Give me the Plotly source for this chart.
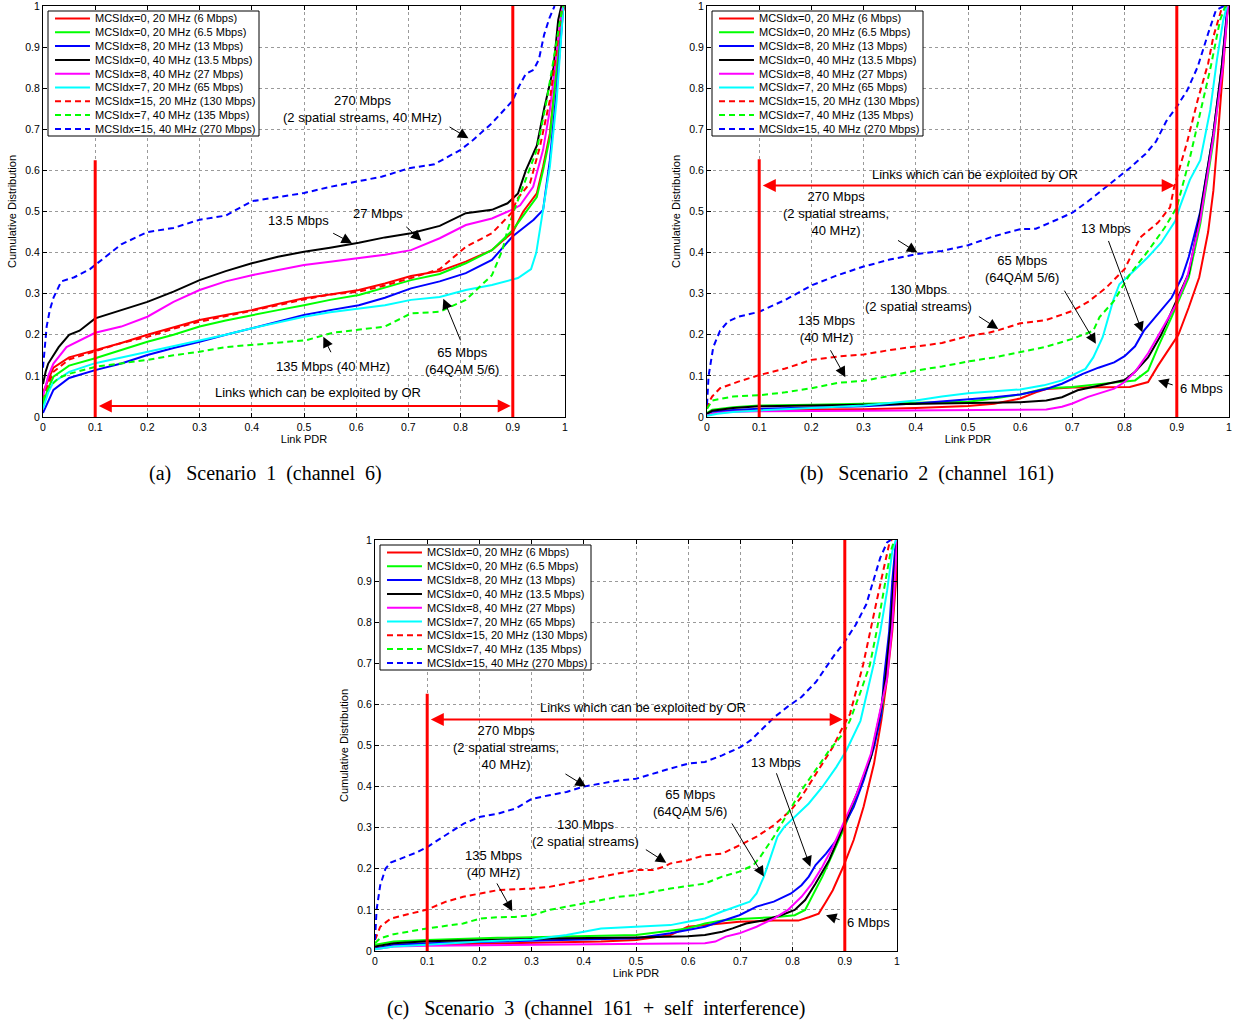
import plotly.graph_objects as go

# ---------------- data ----------------
SERIES_NAMES = [
    "MCSIdx=0, 20 MHz (6 Mbps)",
    "MCSIdx=0, 20 MHz (6.5 Mbps)",
    "MCSIdx=8, 20 MHz (13 Mbps)",
    "MCSIdx=0, 40 MHz (13.5 Mbps)",
    "MCSIdx=8, 40 MHz (27 Mbps)",
    "MCSIdx=7, 20 MHz (65 Mbps)",
    "MCSIdx=15, 20 MHz (130 Mbps)",
    "MCSIdx=7, 40 MHz (135 Mbps)",
    "MCSIdx=15, 40 MHz (270 Mbps)",
]
TICKS = [0, 0.1, 0.2, 0.3, 0.4, 0.5, 0.6, 0.7, 0.8, 0.9, 1]
TICK_LABELS = ["0", "0.1", "0.2", "0.3", "0.4", "0.5", "0.6", "0.7", "0.8", "0.9", "1"]
OR_LOW, OR_HIGH = 0.1, 0.9
CAPTIONS = [
    "(a)\u00a0\u00a0\u00a0Scenario\u00a0\u00a01\u00a0\u00a0(channel\u00a0\u00a06)",
    "(b)\u00a0\u00a0\u00a0Scenario\u00a0\u00a02\u00a0\u00a0(channel\u00a0\u00a0161)",
    "(c)\u00a0\u00a0\u00a0Scenario\u00a0\u00a03\u00a0\u00a0(channel\u00a0\u00a0161\u00a0\u00a0+\u00a0\u00a0self\u00a0\u00a0interference)",
]

# Scenario 1 (channel 6): [link PDR, cumulative distribution]
S1_6 = [[0,0.06],[0.01,0.09],[0.02,0.12],[0.05,0.145],[0.1,0.163],[0.15,0.18],[0.2,0.2],[0.25,0.218],[0.3,0.236],[0.35,0.248],[0.4,0.26],[0.45,0.275],[0.5,0.289],[0.55,0.298],[0.605,0.309],[0.655,0.325],[0.705,0.343],[0.76,0.355],[0.81,0.378],[0.86,0.406],[0.9,0.45],[0.92,0.5],[0.946,0.544],[0.958,0.609],[0.971,0.69],[0.984,0.852],[0.994,0.98],[1.0,1.0]]
S1_6_5 = [[0,0.03],[0.01,0.07],[0.02,0.098],[0.05,0.125],[0.1,0.143],[0.15,0.163],[0.2,0.183],[0.25,0.2],[0.3,0.22],[0.35,0.235],[0.4,0.248],[0.45,0.26],[0.5,0.272],[0.55,0.285],[0.605,0.297],[0.655,0.315],[0.705,0.333],[0.76,0.348],[0.81,0.374],[0.86,0.406],[0.9,0.455],[0.92,0.49],[0.946,0.535],[0.958,0.6],[0.971,0.68],[0.984,0.85],[0.995,1.0]]
S1_13 = [[0,0.01],[0.01,0.04],[0.02,0.066],[0.05,0.095],[0.1,0.114],[0.15,0.13],[0.2,0.151],[0.25,0.168],[0.3,0.183],[0.35,0.2],[0.4,0.216],[0.45,0.232],[0.5,0.248],[0.55,0.26],[0.605,0.272],[0.655,0.29],[0.705,0.313],[0.76,0.33],[0.81,0.35],[0.86,0.382],[0.9,0.44],[0.92,0.46],[0.94,0.48],[0.958,0.504],[0.971,0.625],[0.984,0.796],[0.994,0.966],[0.997,1.0]]
S1_13_5 = [[0,0.08],[0.005,0.11],[0.01,0.13],[0.03,0.17],[0.05,0.2],[0.07,0.21],[0.1,0.24],[0.15,0.26],[0.2,0.28],[0.25,0.305],[0.3,0.333],[0.35,0.355],[0.4,0.374],[0.45,0.39],[0.5,0.402],[0.55,0.412],[0.605,0.424],[0.655,0.437],[0.705,0.447],[0.76,0.465],[0.81,0.496],[0.86,0.504],[0.89,0.52],[0.91,0.544],[0.925,0.6],[0.946,0.66],[0.96,0.75],[0.978,0.85],[0.987,0.966],[0.993,1.0]]
S1_27 = [[0,0.05],[0.01,0.1],[0.02,0.13],[0.045,0.17],[0.1,0.205],[0.15,0.22],[0.2,0.244],[0.25,0.28],[0.3,0.309],[0.35,0.33],[0.4,0.345],[0.45,0.358],[0.5,0.37],[0.55,0.378],[0.605,0.386],[0.655,0.395],[0.705,0.406],[0.76,0.435],[0.81,0.467],[0.86,0.483],[0.9,0.505],[0.914,0.515],[0.939,0.56],[0.958,0.65],[0.971,0.747],[0.984,0.893],[0.994,0.99],[0.997,1.0]]
S1_65 = [[0,0.02],[0.01,0.06],[0.02,0.085],[0.05,0.11],[0.1,0.131],[0.15,0.145],[0.2,0.159],[0.25,0.173],[0.3,0.187],[0.35,0.2],[0.4,0.216],[0.45,0.23],[0.5,0.244],[0.55,0.255],[0.605,0.264],[0.655,0.272],[0.705,0.285],[0.76,0.292],[0.81,0.309],[0.86,0.321],[0.91,0.338],[0.935,0.36],[0.945,0.4],[0.958,0.504],[0.971,0.609],[0.984,0.771],[0.994,0.934],[0.997,1.0]]
S1_130 = [[0,0.04],[0.01,0.08],[0.02,0.11],[0.05,0.14],[0.1,0.16],[0.15,0.18],[0.2,0.195],[0.25,0.215],[0.3,0.232],[0.35,0.245],[0.4,0.258],[0.45,0.272],[0.5,0.286],[0.55,0.298],[0.605,0.305],[0.655,0.32],[0.705,0.338],[0.76,0.36],[0.81,0.414],[0.86,0.447],[0.9,0.5],[0.907,0.528],[0.933,0.569],[0.952,0.658],[0.971,0.771],[0.987,0.917],[0.994,0.99],[0.997,1.0]]
S1_135 = [[0,0.04],[0.01,0.07],[0.03,0.095],[0.05,0.105],[0.1,0.122],[0.15,0.13],[0.2,0.139],[0.25,0.15],[0.3,0.159],[0.35,0.17],[0.4,0.175],[0.45,0.18],[0.505,0.187],[0.555,0.205],[0.605,0.212],[0.655,0.22],[0.705,0.252],[0.76,0.256],[0.81,0.285],[0.86,0.345],[0.88,0.406],[0.89,0.455],[0.9,0.494],[0.92,0.56],[0.946,0.65],[0.965,0.771],[0.981,0.893],[0.994,0.99],[0.997,1.0]]
S1_270 = [[0,0.12],[0.007,0.22],[0.013,0.26],[0.02,0.29],[0.035,0.33],[0.06,0.34],[0.09,0.36],[0.1,0.37],[0.15,0.42],[0.2,0.45],[0.25,0.46],[0.3,0.48],[0.35,0.49],[0.4,0.525],[0.45,0.535],[0.5,0.545],[0.55,0.56],[0.6,0.573],[0.65,0.585],[0.7,0.605],[0.75,0.615],[0.8,0.65],[0.825,0.675],[0.86,0.715],[0.9,0.77],[0.91,0.8],[0.925,0.835],[0.94,0.845],[0.95,0.87],[0.96,0.93],[0.97,0.97],[0.98,1.0]]

# Scenario 2 (channel 161)
S2_6 = [[0,0.004],[0.02,0.01],[0.05,0.014],[0.1,0.016],[0.2,0.018],[0.3,0.019],[0.4,0.022],[0.5,0.027],[0.55,0.032],[0.6,0.045],[0.63,0.06],[0.65,0.068],[0.7,0.072],[0.75,0.073],[0.81,0.073],[0.845,0.085],[0.864,0.125],[0.89,0.175],[0.903,0.2],[0.923,0.267],[0.943,0.34],[0.96,0.45],[0.97,0.55],[0.979,0.69],[0.989,0.85],[0.998,1.0]]
S2_6_5 = [[0,0.01],[0.01,0.018],[0.05,0.024],[0.1,0.028],[0.2,0.03],[0.3,0.032],[0.4,0.034],[0.5,0.037],[0.55,0.045],[0.6,0.055],[0.65,0.07],[0.7,0.073],[0.75,0.08],[0.82,0.089],[0.845,0.113],[0.864,0.17],[0.89,0.243],[0.903,0.283],[0.923,0.34],[0.945,0.47],[0.97,0.67],[0.986,0.85],[0.998,1.0]]
S2_13 = [[0,0.008],[0.01,0.013],[0.05,0.017],[0.1,0.02],[0.2,0.023],[0.3,0.026],[0.4,0.033],[0.5,0.042],[0.55,0.048],[0.6,0.055],[0.65,0.068],[0.68,0.081],[0.72,0.105],[0.75,0.12],[0.78,0.133],[0.8,0.148],[0.82,0.172],[0.837,0.21],[0.86,0.245],[0.89,0.29],[0.91,0.34],[0.923,0.39],[0.945,0.5],[0.97,0.69],[0.986,0.85],[0.997,1.0]]
S2_13_5 = [[0,0.008],[0.01,0.015],[0.05,0.022],[0.1,0.026],[0.2,0.028],[0.3,0.03],[0.4,0.032],[0.5,0.034],[0.6,0.036],[0.65,0.04],[0.68,0.048],[0.71,0.065],[0.76,0.078],[0.8,0.09],[0.82,0.11],[0.845,0.145],[0.87,0.2],[0.897,0.275],[0.923,0.35],[0.943,0.48],[0.97,0.69],[0.986,0.85],[0.998,1.0]]
S2_27 = [[0,0.004],[0.02,0.01],[0.05,0.013],[0.1,0.014],[0.3,0.015],[0.5,0.016],[0.6,0.017],[0.65,0.018],[0.68,0.025],[0.7,0.033],[0.73,0.049],[0.78,0.069],[0.8,0.085],[0.82,0.11],[0.845,0.155],[0.87,0.21],[0.897,0.27],[0.92,0.34],[0.945,0.48],[0.97,0.68],[0.988,0.85],[0.998,1.0]]
S2_65 = [[0,0.003],[0.02,0.008],[0.05,0.012],[0.1,0.016],[0.2,0.022],[0.3,0.028],[0.4,0.04],[0.45,0.05],[0.5,0.058],[0.55,0.062],[0.6,0.067],[0.645,0.077],[0.68,0.089],[0.705,0.105],[0.725,0.117],[0.74,0.145],[0.758,0.194],[0.778,0.283],[0.79,0.323],[0.818,0.356],[0.844,0.388],[0.87,0.424],[0.897,0.477],[0.906,0.512],[0.925,0.577],[0.945,0.625],[0.964,0.747],[0.977,0.87],[0.989,0.966],[0.996,1.0]]
S2_130 = [[0,0.02],[0.003,0.035],[0.01,0.05],[0.025,0.07],[0.06,0.086],[0.1,0.102],[0.15,0.118],[0.2,0.139],[0.25,0.147],[0.3,0.152],[0.35,0.163],[0.4,0.172],[0.45,0.18],[0.5,0.197],[0.54,0.205],[0.56,0.212],[0.6,0.228],[0.65,0.236],[0.7,0.258],[0.73,0.28],[0.765,0.315],[0.8,0.36],[0.83,0.437],[0.864,0.473],[0.887,0.51],[0.895,0.56],[0.92,0.67],[0.94,0.771],[0.96,0.86],[0.97,0.925],[0.985,0.99],[0.995,1.0]]
S2_135 = [[0,0.02],[0.01,0.04],[0.05,0.05],[0.1,0.053],[0.15,0.06],[0.2,0.07],[0.25,0.083],[0.3,0.088],[0.35,0.1],[0.4,0.113],[0.45,0.123],[0.5,0.135],[0.55,0.145],[0.6,0.158],[0.65,0.171],[0.7,0.19],[0.74,0.21],[0.752,0.243],[0.78,0.283],[0.81,0.347],[0.845,0.404],[0.877,0.461],[0.9,0.51],[0.925,0.63],[0.945,0.74],[0.965,0.852],[0.983,0.966],[0.993,1.0]]
S2_270 = [[0,0.03],[0.003,0.1],[0.012,0.17],[0.025,0.21],[0.04,0.232],[0.06,0.244],[0.1,0.256],[0.15,0.285],[0.2,0.32],[0.25,0.345],[0.3,0.366],[0.35,0.383],[0.4,0.396],[0.45,0.404],[0.5,0.418],[0.55,0.44],[0.6,0.457],[0.63,0.458],[0.67,0.48],[0.7,0.497],[0.73,0.525],[0.765,0.56],[0.81,0.606],[0.84,0.64],[0.86,0.67],[0.88,0.72],[0.9,0.755],[0.92,0.795],[0.94,0.852],[0.96,0.933],[0.975,0.99],[0.99,1.0]]

# Scenario 3 (channel 161 + self interference)
S3_6 = [[0,0.006],[0.036,0.013],[0.1,0.015],[0.3,0.019],[0.433,0.023],[0.5,0.027],[0.566,0.039],[0.599,0.059],[0.632,0.063],[0.665,0.067],[0.698,0.071],[0.764,0.074],[0.811,0.074],[0.831,0.082],[0.85,0.091],[0.864,0.12],[0.877,0.148],[0.897,0.205],[0.917,0.27],[0.936,0.351],[0.956,0.456],[0.97,0.561],[0.981,0.663],[0.991,0.778],[0.998,0.9],[1.0,1.0]]
S3_6_5 = [[0,0.015],[0.036,0.023],[0.1,0.027],[0.235,0.032],[0.367,0.035],[0.5,0.039],[0.599,0.055],[0.632,0.067],[0.665,0.074],[0.698,0.078],[0.764,0.082],[0.804,0.087],[0.824,0.1],[0.837,0.132],[0.857,0.181],[0.877,0.237],[0.897,0.294],[0.923,0.375],[0.95,0.472],[0.97,0.577],[0.978,0.663],[0.988,0.794],[0.995,0.924],[1.0,1.0]]
S3_13 = [[0,0.006],[0.036,0.015],[0.1,0.019],[0.235,0.023],[0.367,0.027],[0.5,0.031],[0.566,0.043],[0.632,0.059],[0.698,0.087],[0.731,0.108],[0.764,0.12],[0.797,0.14],[0.817,0.16],[0.831,0.181],[0.844,0.209],[0.864,0.237],[0.884,0.27],[0.897,0.302],[0.917,0.35],[0.936,0.415],[0.956,0.496],[0.97,0.577],[0.975,0.663],[0.985,0.778],[0.991,0.9],[0.998,1.0]]
S3_13_5 = [[0,0.011],[0.036,0.019],[0.1,0.024],[0.235,0.028],[0.367,0.031],[0.5,0.033],[0.599,0.036],[0.632,0.039],[0.665,0.047],[0.685,0.055],[0.711,0.067],[0.745,0.075],[0.778,0.087],[0.804,0.1],[0.824,0.124],[0.844,0.164],[0.87,0.221],[0.897,0.302],[0.923,0.383],[0.95,0.472],[0.97,0.594],[0.978,0.663],[0.988,0.794],[0.995,0.924],[1.0,1.0]]
S3_27 = [[0,0.004],[0.036,0.011],[0.1,0.013],[0.301,0.015],[0.5,0.016],[0.632,0.019],[0.652,0.023],[0.672,0.035],[0.698,0.043],[0.731,0.059],[0.764,0.079],[0.791,0.1],[0.817,0.132],[0.837,0.164],[0.857,0.205],[0.877,0.253],[0.897,0.31],[0.923,0.383],[0.95,0.48],[0.97,0.594],[0.981,0.663],[0.991,0.794],[0.998,0.973],[1.0,1.0]]
S3_65 = [[0,0.004],[0.036,0.011],[0.1,0.015],[0.202,0.023],[0.301,0.028],[0.367,0.039],[0.433,0.055],[0.5,0.059],[0.566,0.063],[0.599,0.071],[0.632,0.079],[0.665,0.096],[0.698,0.112],[0.718,0.12],[0.731,0.14],[0.745,0.181],[0.758,0.229],[0.771,0.278],[0.784,0.302],[0.804,0.326],[0.831,0.359],[0.857,0.399],[0.884,0.448],[0.903,0.488],[0.93,0.56],[0.955,0.696],[0.968,0.778],[0.981,0.876],[0.991,0.973],[0.998,1.0]]
S3_130 = [[0,0.027],[0.01,0.059],[0.03,0.079],[0.056,0.087],[0.1,0.101],[0.136,0.12],[0.169,0.132],[0.202,0.14],[0.235,0.148],[0.268,0.15],[0.301,0.152],[0.334,0.156],[0.367,0.164],[0.4,0.172],[0.433,0.181],[0.467,0.189],[0.5,0.197],[0.533,0.197],[0.553,0.205],[0.566,0.213],[0.599,0.221],[0.632,0.233],[0.665,0.237],[0.698,0.257],[0.731,0.278],[0.764,0.306],[0.797,0.343],[0.817,0.375],[0.837,0.415],[0.857,0.456],[0.877,0.496],[0.893,0.537],[0.91,0.577],[0.935,0.696],[0.948,0.778],[0.961,0.851],[0.975,0.933],[0.985,0.99],[0.99,1.0]]
S3_135 = [[0,0.019],[0.01,0.031],[0.036,0.041],[0.1,0.055],[0.169,0.067],[0.202,0.079],[0.235,0.082],[0.268,0.083],[0.301,0.087],[0.334,0.1],[0.367,0.108],[0.4,0.116],[0.433,0.124],[0.467,0.132],[0.5,0.136],[0.533,0.144],[0.566,0.152],[0.599,0.158],[0.632,0.164],[0.665,0.181],[0.698,0.193],[0.725,0.209],[0.738,0.229],[0.764,0.278],[0.791,0.334],[0.817,0.391],[0.844,0.44],[0.87,0.488],[0.897,0.529],[0.91,0.561],[0.93,0.63],[0.948,0.696],[0.961,0.778],[0.975,0.876],[0.988,0.973],[0.995,1.0]]
S3_270 = [[0,0.027],[0.003,0.1],[0.01,0.16],[0.02,0.2],[0.03,0.215],[0.05,0.225],[0.08,0.24],[0.1,0.253],[0.14,0.286],[0.17,0.31],[0.2,0.326],[0.235,0.334],[0.27,0.347],[0.3,0.37],[0.334,0.379],[0.367,0.387],[0.4,0.4],[0.433,0.407],[0.467,0.415],[0.5,0.419],[0.533,0.432],[0.566,0.444],[0.6,0.456],[0.632,0.46],[0.665,0.476],[0.7,0.496],[0.72,0.513],[0.74,0.537],[0.765,0.569],[0.79,0.594],[0.817,0.618],[0.845,0.655],[0.88,0.72],[0.898,0.749],[0.921,0.794],[0.941,0.843],[0.955,0.9],[0.968,0.957],[0.981,0.994],[0.988,1.0]]

SCENARIO_1 = [S1_6, S1_6_5, S1_13, S1_13_5, S1_27, S1_65, S1_130, S1_135, S1_270]
SCENARIO_2 = [S2_6, S2_6_5, S2_13, S2_13_5, S2_27, S2_65, S2_130, S2_135, S2_270]
SCENARIO_3 = [S3_6, S3_6_5, S3_13, S3_13_5, S3_27, S3_65, S3_130, S3_135, S3_270]
SCENARIOS = [SCENARIO_1, SCENARIO_2, SCENARIO_3]

# ---------------- styles / layout ----------------
COLORS = ["#ff0000", "#00ff00", "#0000ff", "#000000", "#ff00ff", "#00ffff",
          "#ff0000", "#00ff00", "#0000ff"]
DASHES = ["solid"] * 6 + ["6px,4px"] * 3
SANS = "Liberation Sans, Arial, Helvetica, sans-serif"
SERIF = "Liberation Serif, Times New Roman, serif"
W, H = 1239, 1020

# panel pixel boxes: (left, right, top, bottom)
PANEL_PX = [(43, 565, 6, 417), (707, 1229, 6, 417), (375, 897, 540, 951)]
CAPTION_PX = [(265, 473), (927, 473), (596, 1008)]

# annotation labels: (text, text_x, text_y, anchor, tail_x, tail_y, tip_x, tip_y)
LABELS_1 = [
    ("270 Mbps<br>(2 spatial streams, 40 MHz)", 0.613, 0.75, "center", 0.776, 0.708, 0.815, 0.678),
    ("13.5 Mbps", 0.489, 0.477, "center", 0.553, 0.449, 0.592, 0.423),
    ("27 Mbps", 0.641, 0.494, "center", 0.693, 0.466, 0.725, 0.429),
    ("135 Mbps (40 MHz)", 0.556, 0.122, "center", 0.553, 0.154, 0.537, 0.195),
    ("65 Mbps<br>(64QAM 5/6)", 0.803, 0.137, "center", 0.801, 0.183, 0.767, 0.288),
]
LABELS_2 = [
    ("270 Mbps<br>(2 spatial streams,<br>40 MHz)", 0.247, 0.494, "center", 0.363, 0.432, 0.403, 0.4),
    ("130 Mbps<br>(2 spatial streams)", 0.405, 0.29, "center", 0.518, 0.247, 0.558, 0.214),
    ("135 Mbps<br>(40 MHz)", 0.229, 0.213, "center", 0.235, 0.166, 0.265, 0.097),
    ("65 Mbps<br>(64QAM 5/6)", 0.604, 0.36, "center", 0.683, 0.311, 0.745, 0.178),
    ("13 Mbps", 0.765, 0.458, "center", 0.768, 0.432, 0.834, 0.206),
    ("6 Mbps", 0.903, 0.069, "left", 0.895, 0.077, 0.864, 0.089),
]
LABELS_3 = [
    ("270 Mbps<br>(2 spatial streams,<br>40 MHz)", 0.251, 0.494, "center", 0.362, 0.433, 0.404, 0.4),
    ("130 Mbps<br>(2 spatial streams)", 0.404, 0.288, "center", 0.516, 0.249, 0.558, 0.215),
    ("135 Mbps<br>(40 MHz)", 0.228, 0.211, "center", 0.232, 0.168, 0.263, 0.097),
    ("65 Mbps<br>(64QAM 5/6)", 0.604, 0.359, "center", 0.682, 0.314, 0.745, 0.181),
    ("13 Mbps", 0.768, 0.458, "center", 0.768, 0.436, 0.834, 0.205),
    ("6 Mbps", 0.9, 0.069, "left", 0.893, 0.075, 0.864, 0.087),
]
LABELS = [LABELS_1, LABELS_2, LABELS_3]
# "Links which can be exploited by OR": (text_x, text_y, arrow_y, low_line_top)
OR_ANNOT = [(0.527, 0.06, 0.027, 0.625), (0.513, 0.591, 0.563, 0.627), (0.513, 0.592, 0.563, 0.626)]

fig = go.Figure()
layout = dict(width=W, height=H, margin=dict(l=0, r=0, t=0, b=0, autoexpand=False),
              paper_bgcolor="white", plot_bgcolor="white", showlegend=False,
              font=dict(family=SANS, color="black"))
shapes, annotations = [], []

for k, (series_list, (pl, pr, pt, pb)) in enumerate(zip(SCENARIOS, PANEL_PX)):
    sfx = "" if k == 0 else str(k + 1)
    xr, yr = "x" + sfx, "y" + sfx
    axis_common = dict(
        range=[0, 1], tickvals=TICKS, ticktext=TICK_LABELS, ticks="inside", ticklen=4,
        tickwidth=1, tickcolor="black", showline=True, linecolor="black", linewidth=1,
        mirror="ticks", showgrid=True, gridcolor="#9a9a9a", griddash="dot", gridwidth=1,
        zeroline=False, automargin=False, ticklabeloverflow="allow",
        tickfont=dict(family=SANS, size=10.5, color="black"), fixedrange=True,
    )
    layout["xaxis" + sfx] = dict(axis_common, domain=[pl / W, pr / W], anchor=yr,
                                 title=dict(text="Link PDR", font=dict(family=SANS, size=11), standoff=2))
    layout["yaxis" + sfx] = dict(axis_common, domain=[1 - pb / H, 1 - pt / H], anchor=xr,
                                 title=dict(text="Cumulative Distribution", font=dict(family=SANS, size=11), standoff=6))

    for i, pts in enumerate(series_list):
        fig.add_trace(go.Scatter(
            x=[p[0] for p in pts], y=[p[1] for p in pts], mode="lines",
            name=SERIES_NAMES[i], xaxis=xr, yaxis=yr, showlegend=False,
            line=dict(color=COLORS[i], width=2, dash=DASHES[i]),
            hoverinfo="x+y+name",
        ))

    # OR threshold lines
    tx, ty, ay, top_low = OR_ANNOT[k]
    shapes.append(dict(type="line", xref=xr, yref=yr, x0=OR_LOW, x1=OR_LOW, y0=0, y1=top_low,
                       line=dict(color="#ff0000", width=3), layer="above"))
    shapes.append(dict(type="line", xref=xr, yref=yr, x0=OR_HIGH, x1=OR_HIGH, y0=0, y1=1,
                       line=dict(color="#ff0000", width=3), layer="above"))
    annotations.append(dict(xref=xr, yref=yr, axref=xr, ayref=yr, x=OR_HIGH - 0.004, y=ay,
                            ax=OR_LOW + 0.004, ay=ay, text="", showarrow=True, arrowside="end+start",
                            arrowhead=2, startarrowhead=2, arrowsize=1.3, startarrowsize=1.3,
                            arrowwidth=2, arrowcolor="#ff0000", standoff=0, startstandoff=0))
    annotations.append(dict(xref=xr, yref=yr, x=tx, y=ty, text="Links which can be exploited by OR",
                            showarrow=False, xanchor="center", yanchor="middle",
                            font=dict(family=SANS, size=13, color="black")))

    # labelled arrows
    for (txt, lx, ly, anc, tlx, tly, tpx, tpy) in LABELS[k]:
        annotations.append(dict(xref=xr, yref=yr, x=lx, y=ly, text=txt, showarrow=False,
                                xanchor=anc, yanchor="middle", align="center",
                                font=dict(family=SANS, size=13, color="black")))
        annotations.append(dict(xref=xr, yref=yr, axref=xr, ayref=yr, x=tpx, y=tpy, ax=tlx, ay=tly,
                                text="", showarrow=True, arrowhead=2, arrowsize=2.1, arrowwidth=1,
                                arrowcolor="black", standoff=0, startstandoff=0))

    # legend box (drawn manually to match compact MATLAB legend)
    shapes.append(dict(type="rect", xref=xr, yref=yr, x0=0.0096, x1=0.4138, y0=0.6837, y1=0.9878,
                       line=dict(color="black", width=1), fillcolor="white", layer="above"))
    for i, nm in enumerate(SERIES_NAMES):
        yy = 0.9696 - 0.03358 * i
        shapes.append(dict(type="line", xref=xr, yref=yr, x0=0.023, x1=0.090, y0=yy, y1=yy,
                           line=dict(color=COLORS[i], width=2, dash=DASHES[i]), layer="above"))
        annotations.append(dict(xref=xr, yref=yr, x=0.0958, y=yy, text=nm, showarrow=False,
                                xanchor="left", yanchor="middle",
                                font=dict(family=SANS, size=11, color="black")))

# captions
for cap, (cx, cy) in zip(CAPTIONS, CAPTION_PX):
    annotations.append(dict(xref="paper", yref="paper", x=cx / W, y=1 - cy / H, text=cap,
                            showarrow=False, xanchor="center", yanchor="middle",
                            font=dict(family=SERIF, size=20, color="black")))

layout["shapes"] = shapes
layout["annotations"] = annotations
fig.update_layout(**layout)
fig.write_html("out.html", config={"displayModeBar": False},
               post_script="document.body.style.margin='0px';document.body.style.overflow='hidden';")
